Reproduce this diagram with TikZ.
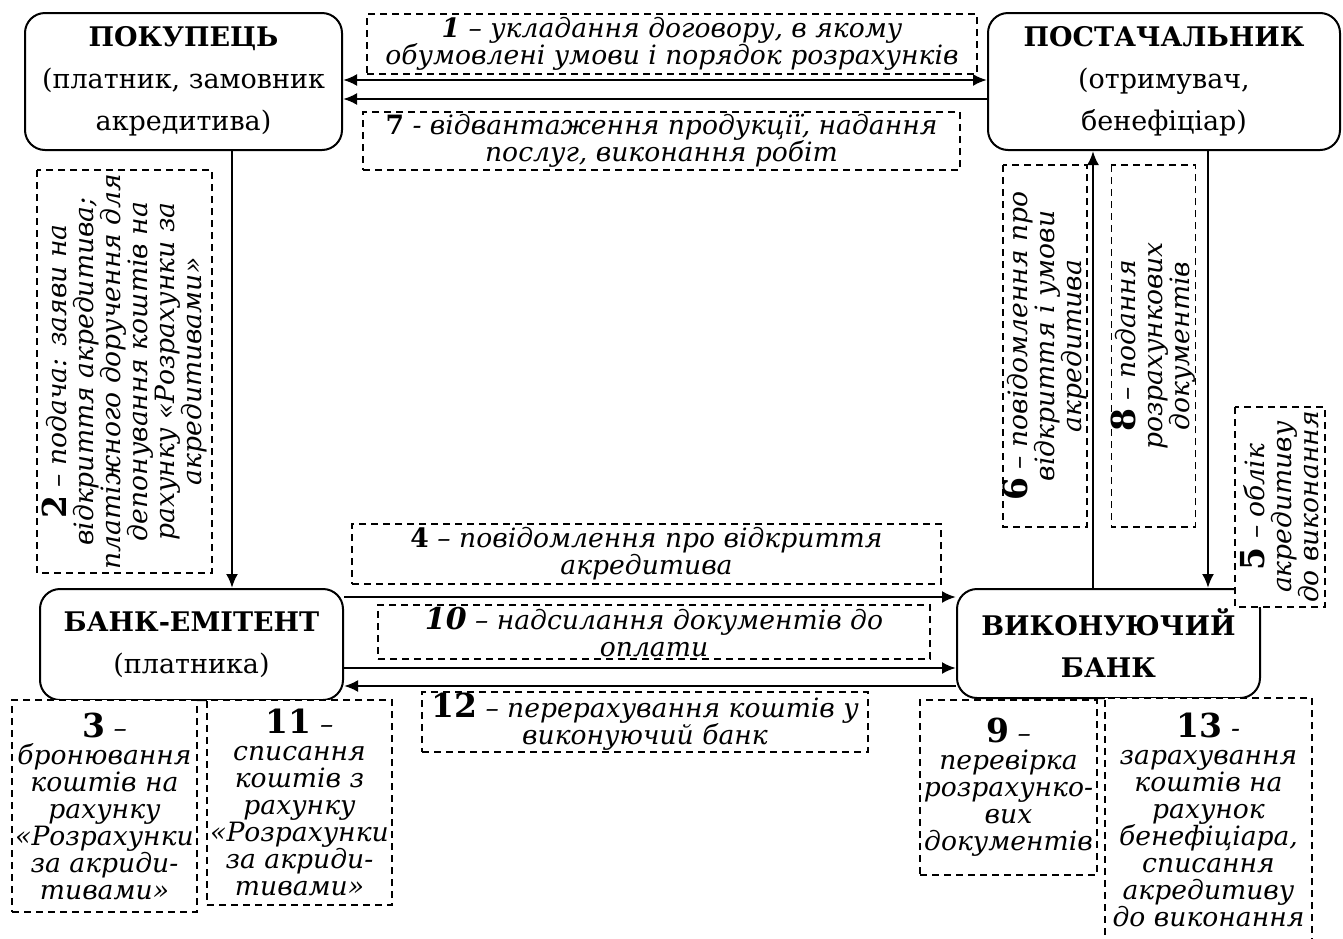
\documentclass[tikz,border=0pt]{standalone}
\usepackage{fontspec}
\setmainfont{DejaVu Serif}
\usetikzlibrary{arrows.meta}

\newcommand{\nr}[1]{\textbf{\upshape #1}}
\newcommand{\bignr}[1]{{\fontsize{16.5}{13.5}\selectfont\textbf{\upshape #1}}}

\begin{document}
\begin{tikzpicture}[x=0.5pt,y=-0.5pt,
    >={Latex[length=7pt,width=6pt]},
    party/.style={draw,line width=1pt,rounded corners=10pt,align=center,
        inner sep=0pt,font=\fontsize{13.5}{21}\selectfont},
    lbl/.style={draw,dash pattern=on 3.5pt off 2.5pt,line width=0.75pt,fill=white,
        align=center,inner sep=0pt,font=\fontsize{13.3}{13.5}\selectfont\itshape},
    flow/.style={line width=1.2pt}]
\useasboundingbox (0,0) rectangle (1343,938);

% parties
\node[party,minimum width=158.5pt,minimum height=68.5pt] (buyer) at (183.5,81.5)
    {\textbf{ПОКУПЕЦЬ}\\(платник, замовник\\акредитива)};
\node[party,minimum width=176pt,minimum height=68.5pt] (seller) at (1164,81.5)
    {\textbf{ПОСТАЧАЛЬНИК}\\(отримувач,\\бенефіціар)};
\node[party,minimum width=151.5pt,minimum height=55.5pt] (issuer) at (191.5,644.5)
    {\textbf{БАНК-ЕМІТЕНТ}\\(платника)};
\node[party,minimum width=151.5pt,minimum height=54.5pt] (execbank) at (1108.5,643.5)
    {\textbf{ВИКОНУЮЧИЙ}\\\textbf{БАНК}};

% arrows
\draw[flow,<->] (buyer.east |- 0,80) -- (seller.west |- 0,80);
\draw[flow,->] (seller.west |- 0,99) -- (buyer.east |- 0,99);
\draw[flow,->] (buyer.south -| 232,0) -- (issuer.north -| 232,0);
\draw[flow,->] (issuer.east |- 0,597) -- (execbank.west |- 0,597);
\draw[flow,->] (issuer.east |- 0,668) -- (execbank.west |- 0,668);
\draw[flow,->] (execbank.west |- 0,686) -- (issuer.east |- 0,686);
\draw[flow,->] (execbank.north -| 1093,0) -- (seller.south -| 1093,0);
\draw[flow,->] (seller.south -| 1208,0) -- (execbank.north -| 1208,0);

% step labels
\node[lbl,minimum width=305pt,minimum height=30pt] (l1) at (672,44)
    {\textbf{1} – укладання договору, в якому\\обумовлені умови і порядок розрахунків};
\node[lbl,minimum width=298.5pt,minimum height=29pt] (l7) at (661.5,141)
    {\nr{7} - відвантаження продукції, надання\\послуг, виконання робіт};
\node[lbl,rotate=90,minimum width=201.5pt,minimum height=87.5pt] (l2) at (124.5,371.5)
    {\bignr{2} – подача: заяви на\\відкриття акредитива;\\платіжного доручення для\\депонування коштів на\\рахунку «Розрахунки за\\акредитивами»};
\node[lbl,rotate=90,minimum width=181pt,minimum height=42pt] (l6) at (1045,346)
    {\bignr{6} – повідомлення про\\відкриття і умови\\акредитива};
\node[lbl,rotate=90,minimum width=181pt,minimum height=41.5pt] (l8) at (1153.5,346)
    {\bignr{8} – подання\\розрахункових\\документів};
\node[lbl,rotate=90,minimum width=100pt,minimum height=45pt] (l5) at (1280,507)
    {\bignr{5} – облік\\акредитиву\\до виконання};
\node[lbl,minimum width=294.5pt,minimum height=30pt] (l4) at (646.5,554)
    {\nr{4} – повідомлення про відкриття\\акредитива};
\node[lbl,minimum width=276pt,minimum height=27pt] (l10) at (654,632)
    {{\fontsize{15}{13}\selectfont\textbf{10}} – надсилання документів до\\оплати};
\node[lbl,minimum width=223pt,minimum height=30pt] (l12) at (645,722)
    {\bignr{12} – перерахування коштів у\\виконуючий банк};
\node[lbl,minimum width=92.5pt,minimum height=106pt] (l3) at (104.5,806)
    {\bignr{3} –\\бронювання\\коштів на\\рахунку\\«Розрахунки\\за акриди-\\тивами»};
\node[lbl,minimum width=92.5pt,minimum height=102.5pt] (l11) at (299.5,802.5)
    {\bignr{11} –\\списання\\коштів з\\рахунку\\«Розрахунки\\за акриди-\\тивами»};
\node[lbl,minimum width=88.5pt,minimum height=87.5pt] (l9) at (1008.5,787.5)
    {\bignr{9} –\\перевірка\\розрахунко-\\вих\\документів};
\node[lbl,minimum width=103.5pt,minimum height=122pt] (l13) at (1208.5,820)
    {\bignr{13} -\\зарахування\\коштів на\\рахунок\\бенефіціара,\\списання\\акредитиву\\до виконання};
\end{tikzpicture}
\end{document}
